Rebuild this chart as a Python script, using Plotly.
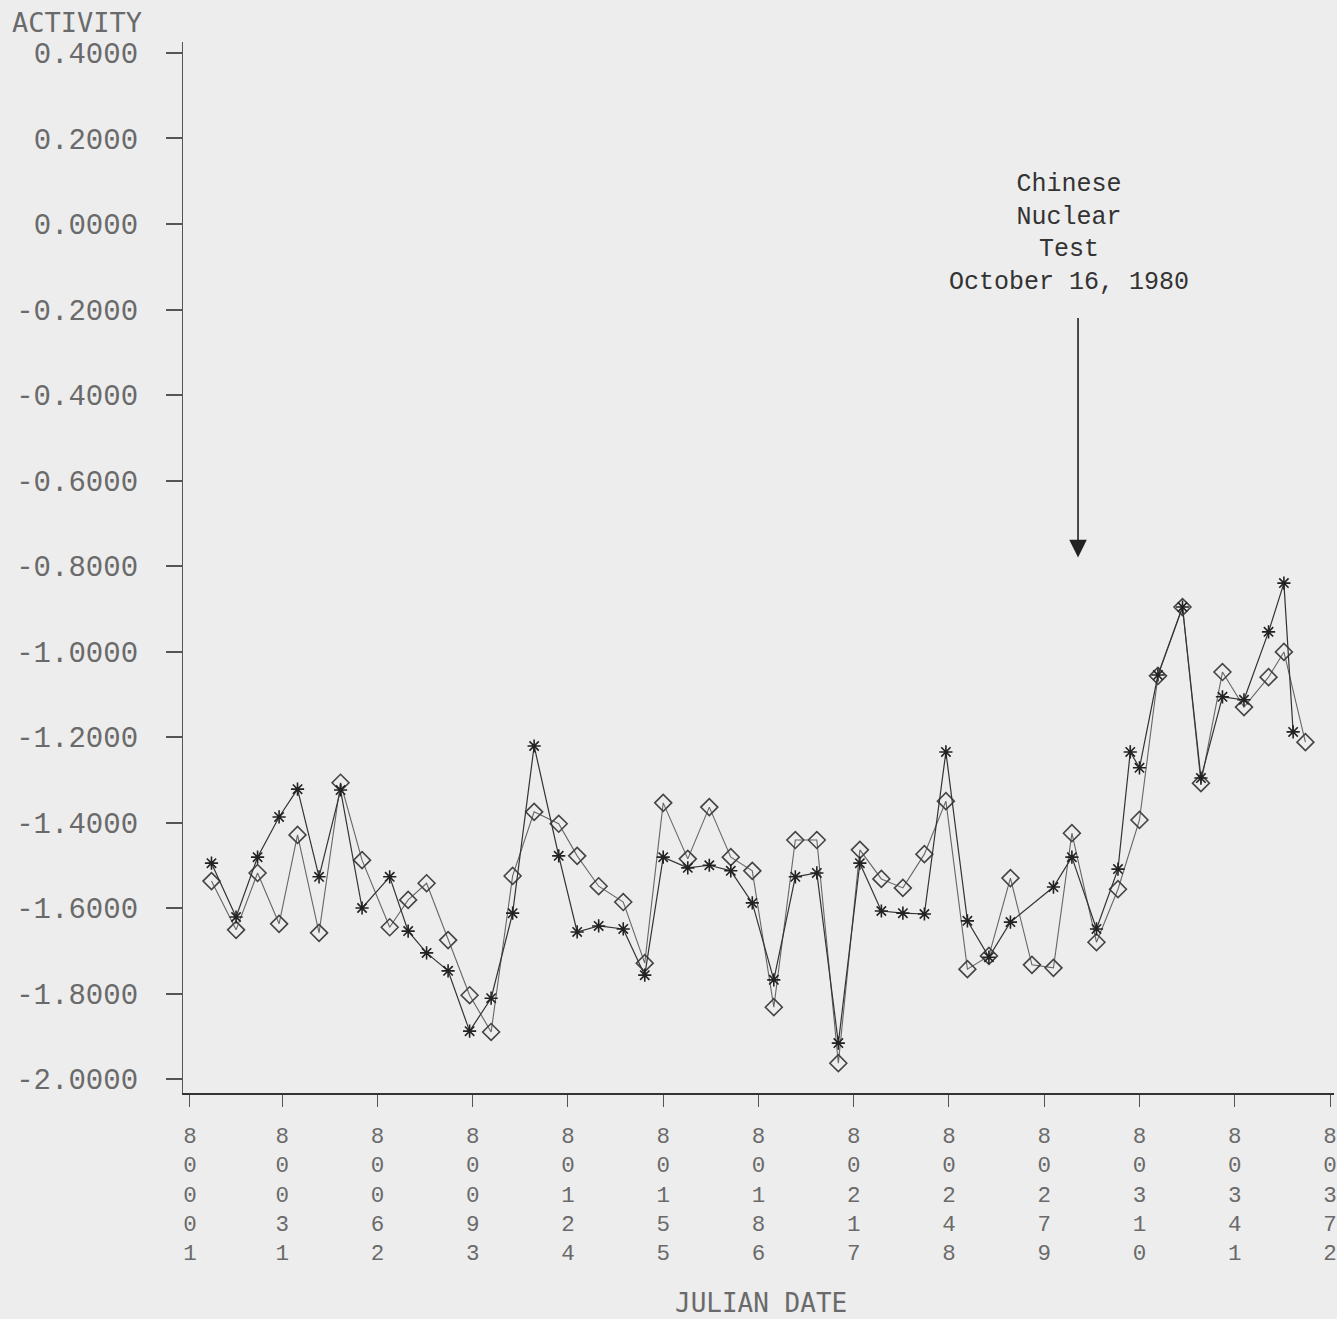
import plotly.graph_objects as go

# Julian dates (YYDDD) and activity values
star_dates = [80008, 80016, 80023, 80030, 80036, 80043, 80050, 80057, 80066, 80072,
              80078, 80085, 80092, 80099, 80106, 80113, 80121, 80127, 80134, 80142,
              80149, 80155, 80163, 80170, 80177, 80184, 80191, 80198, 80205, 80212,
              80219, 80226, 80233, 80240, 80247, 80254, 80261, 80268, 80282, 80288,
              80296, 80303, 80307, 80310, 80316, 80324, 80330, 80337, 80344, 80352,
              80357, 80360]
star_vals = [-1.495, -1.621, -1.481, -1.387, -1.322, -1.527, -1.324, -1.600, -1.527, -1.654,
             -1.705, -1.747, -1.888, -1.811, -1.612, -1.221, -1.478, -1.656, -1.642, -1.649,
             -1.757, -1.481, -1.506, -1.500, -1.513, -1.588, -1.768, -1.527, -1.518, -1.916,
             -1.495, -1.607, -1.612, -1.614, -1.235, -1.630, -1.715, -1.633, -1.551, -1.481,
             -1.649, -1.509, -1.235, -1.272, -1.055, -0.896, -1.296, -1.106, -1.113, -0.954,
             -0.840, -1.188]

diam_dates = [80008, 80016, 80023, 80030, 80036, 80043, 80050, 80057, 80066, 80072,
              80078, 80085, 80092, 80099, 80106, 80113, 80121, 80127, 80134, 80142,
              80149, 80155, 80163, 80170, 80177, 80184, 80191, 80198, 80205, 80212,
              80219, 80226, 80233, 80240, 80247, 80254, 80261, 80268, 80275, 80282,
              80288, 80296, 80303, 80310, 80316, 80324, 80330, 80337, 80344, 80352,
              80357, 80364]
diam_vals = [-1.537, -1.651, -1.518, -1.637, -1.429, -1.658, -1.307, -1.488, -1.645, -1.581,
             -1.542, -1.675, -1.804, -1.890, -1.525, -1.375, -1.403, -1.478, -1.549, -1.586,
             -1.729, -1.354, -1.485, -1.364, -1.481, -1.513, -1.832, -1.441, -1.441, -1.963,
             -1.464, -1.532, -1.553, -1.474, -1.350, -1.743, -1.712, -1.530, -1.733, -1.740,
             -1.425, -1.680, -1.556, -1.394, -1.057, -0.896, -1.308, -1.048, -1.130, -1.060,
             -1.001, -1.212]

x_ticks = [80001, 80031, 80062, 80093, 80124, 80155, 80186, 80217, 80248, 80279, 80310, 80341, 80372]
y_ticks = [0.4, 0.2, 0.0, -0.2, -0.4, -0.6, -0.8, -1.0, -1.2, -1.4, -1.6, -1.8, -2.0]

event_date = 80290
event_text = "Chinese<br>Nuclear<br>Test<br>October 16, 1980"

MONO = "Liberation Mono"
TXT = "#6a6a6a"
BG = "#ededed"

fig = go.Figure()
fig.add_trace(go.Scatter(
    x=diam_dates, y=diam_vals, mode="lines+markers",
    line=dict(color="#666666", width=1.1),
    marker=dict(symbol="diamond-open", size=13, color="#444444", line=dict(width=1.6, color="#444444")),
    showlegend=False))
fig.add_trace(go.Scatter(
    x=star_dates, y=star_vals, mode="lines+markers",
    line=dict(color="#333333", width=1.2),
    marker=dict(symbol="asterisk-open", size=11, color="#222222", line=dict(width=1.6, color="#222222")),
    showlegend=False))

fig.update_layout(
    width=1337, height=1319,
    margin=dict(l=183, r=0, t=42, b=226),
    paper_bgcolor=BG, plot_bgcolor=BG,
    font=dict(family=MONO, color=TXT),
    xaxis=dict(
        range=[79998.73, 80373.3], showgrid=False, zeroline=False,
        showline=True, linecolor="#333333", linewidth=2,
        tickmode="array", tickvals=x_ticks,
        ticktext=["<br>".join(str(t)) for t in x_ticks],
        ticks="outside", ticklen=12, tickwidth=1.2, tickcolor="#555555",
        ticklabelstandoff=9, ticklabeloverflow="allow",
        tickfont=dict(family=MONO, size=22.5, color=TXT),
    ),
    yaxis=dict(
        range=[-2.0327, 0.4257], showgrid=False, zeroline=False,
        showline=True, linecolor="#555555", linewidth=1.3,
        tickmode="array", tickvals=y_ticks,
        ticktext=[f"{v:.4f}" if v != 0 else "0.0000" for v in y_ticks],
        ticks="outside", ticklen=16, tickwidth=1.5, tickcolor="#555555",
        ticklabelstandoff=22,
        tickfont=dict(family=MONO, size=29, color=TXT),
    ),
)

fig.add_annotation(xref="paper", yref="paper", x=-0.1499, y=1.019, xanchor="left", yanchor="middle",
                   text="ACTIVITY", showarrow=False, font=dict(family="DejaVu Sans Mono", size=27, color=TXT))
fig.add_annotation(xref="paper", yref="paper", x=0.5026, y=-0.2, xanchor="center", yanchor="middle",
                   text="JULIAN DATE", showarrow=False, font=dict(family="DejaVu Sans Mono", size=26, color=TXT))

# event arrow
fig.add_annotation(x=event_date, y=-0.78, xref="x", yref="y", text="", showarrow=True,
                   ax=0, ay=-241, axref="pixel", ayref="pixel",
                   arrowhead=2, arrowsize=2.2, arrowwidth=1.6, arrowcolor="#222222")
fig.add_annotation(x=event_date - 3, y=-0.175, xref="x", yref="y", text=event_text, showarrow=False,
                   xanchor="center", yanchor="bottom", align="center",
                   font=dict(family="Liberation Mono", size=25, color="#333333"))

fig.write_html("out.html", config={"displayModeBar": False},
               post_script="document.body.style.margin='0';document.body.style.overflow='hidden';")
